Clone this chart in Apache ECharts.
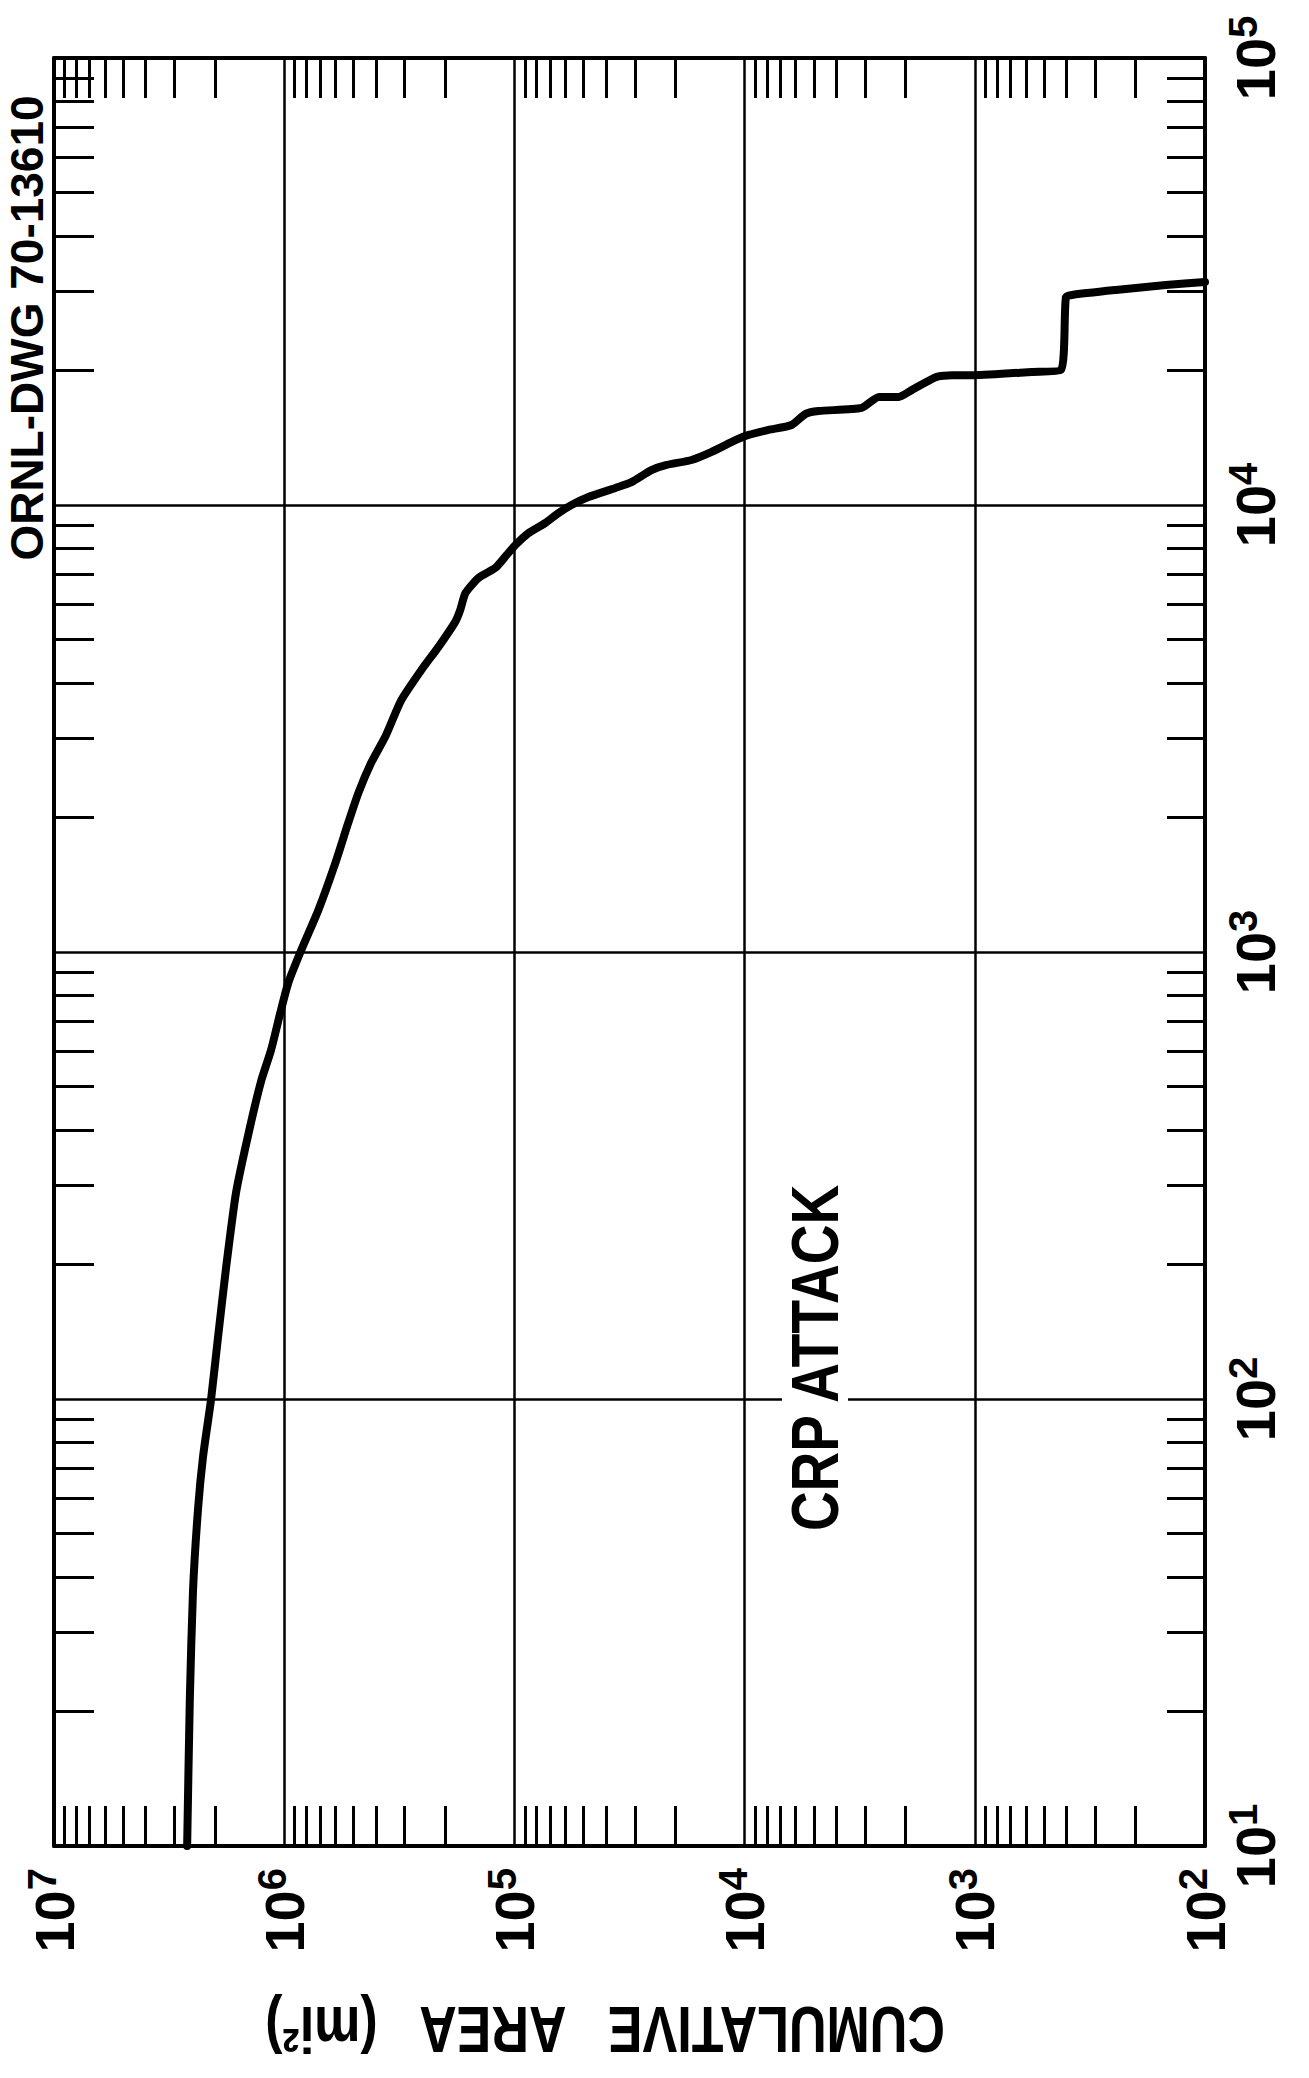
<!DOCTYPE html>
<html>
<head>
<meta charset="utf-8">
<script src="https://cdn.jsdelivr.net/npm/echarts@6.0.0/dist/echarts.min.js"></script>
<style>
html,body{margin:0;padding:0;background:#fff;}
#chart{width:1309px;height:2078px;}
</style>
</head>
<body>
<div id="chart"></div>
<script>
// Cumulative area (mi^2) – horizontal axis of the (rotated) picture, inverted
const areaValues = [2.64e6, 2.57e6, 2.49e6, 2.37e6, 2.25e6, 2.08e6, 1.94e6, 1.79e6, 1.62e6, 1.43e6,
  1.26e6, 1.14e6, 1.04e6, 9.6e5, 8.43e5, 7.11e5, 6.0e5, 5.27e5, 4.76e5, 4.19e5,
  3.64e5, 3.10e5, 2.54e5, 2.14e5, 1.81e5, 1.72e5, 1.63e5, 1.43e5, 1.21e5, 1.08e5,
  9.9e4, 8.7e4, 7.33e4, 6.44e4, 5.65e4, 4.77e4, 3.64e4, 3.10e4, 2.54e4, 2.20e4,
  1.70e4, 1.39e4, 1.09e4, 9600, 7870, 6250, 5430, 4770, 3100, 2610,
  2140, 1880, 1480, 1260, 1010, 565, 423, 402, 378, 244, 148, 100];
// Matching values on the 10^1..10^5 axis (vertical in the picture)
const doseValues = [10, 21.4, 37.2, 56.4, 74.6, 99.5, 137, 196, 289, 392,
  514, 604, 731, 853, 1010, 1240, 1580, 1945, 2270, 2650,
  3030, 3660, 4270, 4810, 5470, 5820, 6360, 6870, 7230, 7730,
  8140, 8650, 9120, 9590, 10000, 10420, 10920, 11250, 11970, 12280,
  12610, 13150, 13980, 14350, 14720, 15100, 15990, 16230, 16490, 17450,
  17450, 18070, 19320, 19520, 19520, 19850, 20050, 29170, 29510, 30270, 31050, 31550];

const areaTickLabels = [100, 1e3, 1e4, 1e5, 1e6, 1e7];
const doseTickLabels = [10, 100, 1e3, 1e4, 1e5];
const minorMultipliers = [2, 3, 4, 5, 6, 7, 8, 9];
const areaDecades = [100, 1e3, 1e4, 1e5, 1e6];
const doseDecades = [10, 100, 1e3, 1e4];

const axisTitle = 'CUMULATIVE   AREA   (mi²)';
const plotLabel = 'CRP ATTACK';
const drawingNumber = 'ORNL-DWG 70-13610';

const areaMinorTicks = [];
areaDecades.forEach(d => minorMultipliers.forEach(m => areaMinorTicks.push(m * d)));
const doseMinorTicks = [];
doseDecades.forEach(d => minorMultipliers.forEach(m => doseMinorTicks.push(m * d)));

const F = '"Liberation Sans", Arial, sans-serif';
const labelRich = {
  b: {fontSize: 56, fontWeight: 'bold', fontFamily: F, lineHeight: 64, color: '#000'},
  s: {fontSize: 40, fontWeight: 'bold', fontFamily: F, lineHeight: 34, verticalAlign: 'top', color: '#000'}
};
const fmt = v => '{b|10}{s|' + Math.round(Math.log10(v)) + '}';
const black = '#000';
const frame = {show: true, onZero: false, lineStyle: {color: black, width: 4}};
const minorTickStyle = {color: black, width: 3};

const chart = echarts.init(document.getElementById('chart'), null, {renderer: 'svg'});
chart.setOption({
  animation: false,
  backgroundColor: '#fff',
  grid: {left: 54, right: 104, top: 58, bottom: 232, containLabel: false},
  xAxis: [
    { // bottom edge: labels + minor ticks
      type: 'log', logBase: 10, min: 100, max: 1e7, inverse: true, position: 'bottom',
      axisLine: frame,
      axisTick: {show: true, inside: true, length: 40, customValues: areaMinorTicks, lineStyle: minorTickStyle},
      axisLabel: {show: true, rotate: 90, margin: 22, formatter: fmt, rich: labelRich,
        customValues: areaTickLabels, showMinLabel: true, showMaxLabel: true},
      splitLine: {show: false}
    },
    { // top edge: minor ticks
      type: 'log', logBase: 10, min: 100, max: 1e7, inverse: true, position: 'top',
      axisLine: frame,
      axisTick: {show: true, inside: true, length: 40, customValues: areaMinorTicks, lineStyle: minorTickStyle},
      axisLabel: {show: false},
      splitLine: {show: false}
    },
    { // decade grid lines
      type: 'log', logBase: 10, min: 100, max: 1e7, inverse: true, position: 'bottom',
      axisLine: {show: false}, axisTick: {show: false}, axisLabel: {show: false},
      splitLine: {show: true, lineStyle: {color: black, width: 2.5}}
    }
  ],
  yAxis: [
    { // right edge: labels + minor ticks
      type: 'log', logBase: 10, min: 10, max: 1e5, position: 'right',
      axisLine: frame,
      axisTick: {show: true, inside: true, length: 38, customValues: doseMinorTicks, lineStyle: minorTickStyle},
      axisLabel: {show: true, rotate: 90, margin: 18, formatter: fmt, rich: labelRich,
        customValues: doseTickLabels, showMinLabel: true, showMaxLabel: true},
      splitLine: {show: false}
    },
    { // left edge: minor ticks
      type: 'log', logBase: 10, min: 10, max: 1e5, position: 'left',
      axisLine: frame,
      axisTick: {show: true, inside: true, length: 40, customValues: doseMinorTicks, lineStyle: minorTickStyle},
      axisLabel: {show: false},
      splitLine: {show: false}
    },
    { // decade grid lines
      type: 'log', logBase: 10, min: 10, max: 1e5, position: 'left',
      axisLine: {show: false}, axisTick: {show: false}, axisLabel: {show: false},
      splitLine: {show: true, lineStyle: {color: black, width: 2.5}}
    }
  ],
  series: [{
    type: 'line',
    xAxisIndex: 0, yAxisIndex: 0,
    data: areaValues.map((a, i) => [a, doseValues[i]]),
    symbol: 'none', showSymbol: false, smooth: 0.2,
    lineStyle: {color: black, width: 8, join: 'round', cap: 'round'},
    z: 5
  }],
  graphic: [
    {
      type: 'text', x: 815, y: 1358, rotation: Math.PI / 2, scaleY: 1.2, z: 10,
      style: {text: plotLabel, fontSize: 55, fontWeight: 'bold', fontFamily: F, fill: black,
        align: 'center', verticalAlign: 'middle', backgroundColor: '#fff', padding: [0, 6]}
    },
    {
      type: 'text', x: 605, y: 2030, rotation: Math.PI, scaleY: 1.25, z: 10,
      style: {text: axisTitle, fontSize: 52, fontWeight: 'bold', fontFamily: F, fill: black,
        align: 'center', verticalAlign: 'middle'}
    },
    {
      type: 'text', x: 27, y: 328, rotation: Math.PI / 2, z: 10,
      style: {text: drawingNumber, fontSize: 46, fontWeight: 'bold', fontFamily: F, fill: black,
        align: 'center', verticalAlign: 'middle'}
    }
  ]
});
</script>
</body>
</html>
